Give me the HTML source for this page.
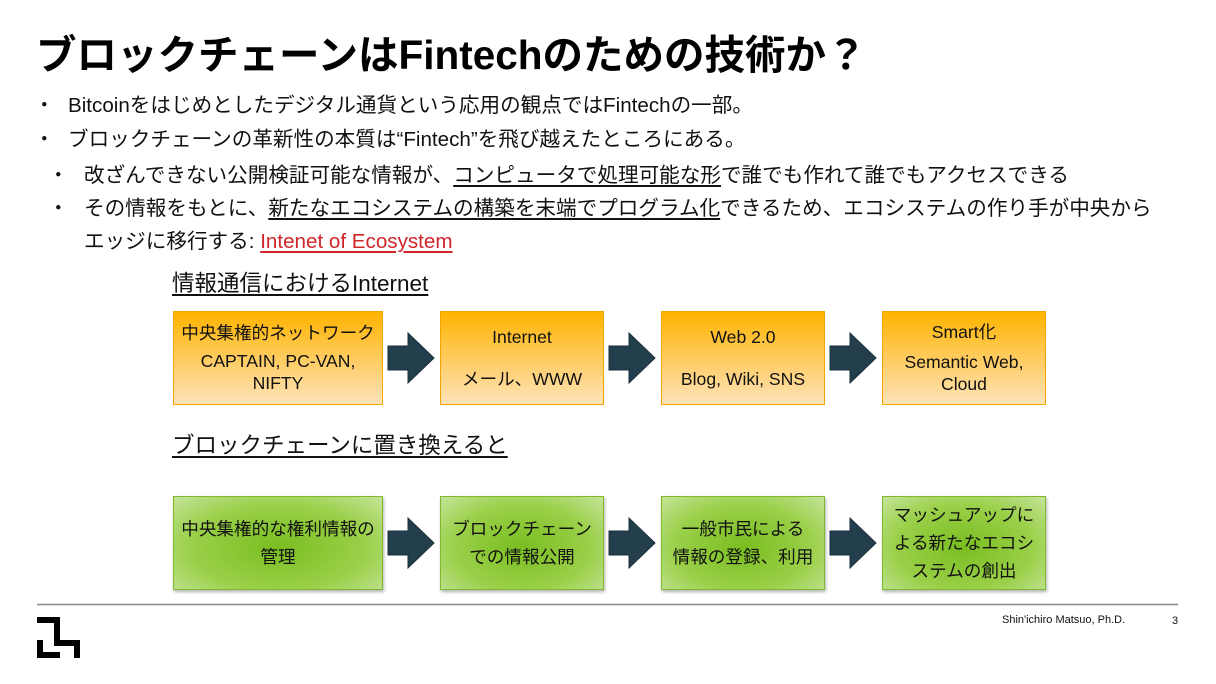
<!DOCTYPE html>
<html><head><meta charset="utf-8"><style>
body{margin:0;width:1216px;height:684px;background:#fff;position:relative;overflow:hidden;font-family:"Liberation Sans","Noto Sans CJK JP",sans-serif;color:#111}
.a{position:absolute;white-space:nowrap}
.t{left:36px;top:22px;font-size:40.5px;font-weight:bold;color:#000}
.b{font-size:20.6px;line-height:24px}
u{text-decoration:underline;text-underline-offset:3px}
.box{position:absolute;box-sizing:border-box;display:flex;flex-direction:column;justify-content:center;align-items:center;text-align:center;font-size:17.6px;line-height:22px;color:#111}
.o{border:1.5px solid #f5a400;background:linear-gradient(#ffb400,#ffd27a 65%,#ffe3b8)}
.g{border:1.5px solid #7dbb2c;background:radial-gradient(ellipse at 50% 55%,#79bd20,#9bd04a 60%,#c4e49a);box-shadow:1px 2px 3px rgba(0,0,0,.3)}
.arr{position:absolute}
</style></head><body>
<div class="a t">ブロックチェーンはFintechのための技術か？</div>
<div class="a b" style="left:34px;top:94px">・</div>
<div class="a b" style="left:68px;top:94px">Bitcoinをはじめとしたデジタル通貨という応用の観点ではFintechの一部。</div>
<div class="a b" style="left:34px;top:128px">・</div>
<div class="a b" style="left:68px;top:128px">ブロックチェーンの革新性の本質は“Fintech”を飛び越えたところにある。</div>
<div class="a b" style="left:48px;top:164px">・</div>
<div class="a b" style="left:84px;top:164px">改ざんできない公開検証可能な情報が、<u>コンピュータで処理可能な形</u>で誰でも作れて誰でもアクセスできる</div>
<div class="a b" style="left:48px;top:197px">・</div>
<div class="a b" style="left:84px;top:197px">その情報をもとに、<u>新たなエコシステムの構築を末端でプログラム化</u>できるため、エコシステムの作り手が中央から</div>
<div class="a b" style="left:84px;top:230px">エッジに移行する: <u style="color:#d0262a">Intenet of Ecosystem</u></div>
<div class="a" style="left:172px;top:271px;font-size:22.5px;line-height:26px"><u>情報通信におけるInternet</u></div>
<div class="a" style="left:172px;top:433px;font-size:22.5px;line-height:26px"><u>ブロックチェーンに置き換えると</u></div>

<div class="box o" style="left:173px;top:311px;width:210px;height:94px"><div>中央集権的ネットワーク</div><div style="margin-top:6px">CAPTAIN, PC-VAN,<br>NIFTY</div></div>
<div class="box o" style="left:440px;top:311px;width:164px;height:94px"><div>Internet</div><div style="margin-top:20px">メール、WWW</div></div>
<div class="box o" style="left:661px;top:311px;width:164px;height:94px"><div>Web 2.0</div><div style="margin-top:20px">Blog, Wiki, SNS</div></div>
<div class="box o" style="left:882px;top:311px;width:164px;height:94px"><div>Smart化</div><div style="margin-top:8px">Semantic Web,<br>Cloud</div></div>

<div class="box g" style="left:173px;top:496px;width:210px;height:94px;line-height:28px">中央集権的な権利情報の<br>管理</div>
<div class="box g" style="left:440px;top:496px;width:164px;height:94px;line-height:28px">ブロックチェーン<br>での情報公開</div>
<div class="box g" style="left:661px;top:496px;width:164px;height:94px;line-height:28px">一般市民による<br>情報の登録、利用</div>
<div class="box g" style="left:882px;top:496px;width:164px;height:94px;line-height:28px">マッシュアップに<br>よる新たなエコシ<br>ステムの創出</div>

<svg class="arr" style="left:0;top:0" width="1216" height="684">
<defs><path id="ar" d="M0,-12 H20 V-25 L46,0 L20,25 V12 H0 Z" fill="#233f4e" stroke="#1a2f3a" stroke-width="1"/></defs>
<use href="#ar" x="388" y="358"/><use href="#ar" x="609" y="358"/><use href="#ar" x="830" y="358"/>
<use href="#ar" x="388" y="543"/><use href="#ar" x="609" y="543"/><use href="#ar" x="830" y="543"/>
<line x1="37" y1="604.5" x2="1178" y2="604.5" stroke="#888" stroke-width="1.5"/>
<path d="M37,617 H60 V640 H80 V658 H74 V646 H54 V623 H37 Z" fill="#000"/>
<path d="M37,640 H43 V652 H60 V658 H37 Z" fill="#000"/>
</svg>
<div class="a" style="left:1002px;top:614px;font-size:11px">Shin'ichiro Matsuo, Ph.D.</div>
<div class="a" style="left:1172px;top:615px;font-size:11px">3</div>
</body></html>
